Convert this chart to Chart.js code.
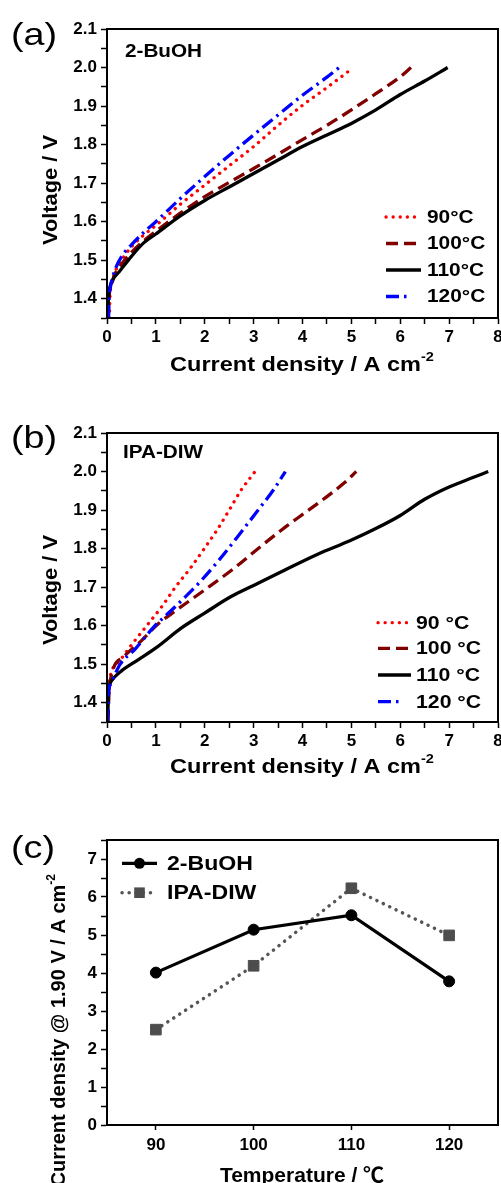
<!DOCTYPE html>
<html lang="en">
<head>
<meta charset="UTF-8">
<title>Polarization curves</title>
<script src="https://cdn.jsdelivr.net/npm/chart.js@4"></script>
<style>
  body { margin: 0; background: #fff; width: 501px; height: 1183px; overflow: hidden; position: relative; }
  .panel { position: absolute; left: 0; }
  canvas { display: block; }
</style>
</head>
<body>
<div class="panel" style="top:0"><canvas id="chartA" width="520" height="390"></canvas></div>
<div class="panel" style="top:390px"><canvas id="chartB" width="520" height="390"></canvas></div>
<div class="panel" style="top:780px"><canvas id="chartC" width="520" height="403"></canvas></div>

<script>
// (a) 2-BuOH polarization curves: current density (A cm-2) vs voltage (V)
const tempLabelsA = ['90°C', '100°C', '110°C', '120°C'];
const currentA90 = [0.05, 0.06, 0.1, 0.2, 0.35, 0.5, 0.75, 1, 1.5, 2, 2.5, 3, 3.5, 4, 4.5, 4.94];
const voltA90 = [1.35, 1.40, 1.44, 1.48, 1.51, 1.535, 1.565, 1.59, 1.645, 1.695, 1.745, 1.795, 1.85, 1.902, 1.948, 1.99];
const currentA100 = [0.03, 0.04, 0.08, 0.15, 0.3, 0.5, 0.75, 1, 1.5, 2, 2.5, 3, 3.5, 4, 4.5, 5, 5.5, 6, 6.22];
const voltA100 = [1.35, 1.40, 1.43, 1.46, 1.49, 1.52, 1.55, 1.575, 1.622, 1.665, 1.702, 1.738, 1.775, 1.813, 1.85, 1.89, 1.932, 1.976, 2.0];
const currentA110 = [0.02, 0.03, 0.06, 0.12, 0.25, 0.5, 0.75, 1, 1.5, 2, 2.5, 3, 3.5, 4, 4.5, 5, 5.5, 6, 6.5, 6.97];
const voltA110 = [1.35, 1.40, 1.43, 1.45, 1.47, 1.51, 1.545, 1.568, 1.615, 1.655, 1.69, 1.725, 1.76, 1.795, 1.825, 1.855, 1.89, 1.93, 1.965, 2.0];
const currentA120 = [0.03, 0.04, 0.07, 0.15, 0.3, 0.5, 0.75, 1, 1.5, 2, 2.5, 3, 3.5, 4, 4.5, 4.75];
const voltA120 = [1.35, 1.40, 1.43, 1.47, 1.51, 1.54, 1.572, 1.60, 1.66, 1.717, 1.772, 1.825, 1.877, 1.928, 1.975, 2.0];

// (b) IPA-DIW polarization curves
const tempLabelsB = ['90 °C', '100 °C', '110 °C', '120 °C'];
const currentB90 = [0.01, 0.02, 0.07, 0.27, 0.55, 0.82, 1.13, 1.40, 1.71, 1.99, 2.26, 2.5, 2.74, 3.03];
const voltB90 = [1.40, 1.43, 1.471, 1.51, 1.558, 1.601, 1.651, 1.70, 1.75, 1.80, 1.85, 1.90, 1.951, 2.0];
const currentB100 = [0.02, 0.04, 0.1, 0.34, 0.68, 1.06, 1.44, 1.99, 2.60, 3.12, 3.66, 4.04, 4.5, 4.85, 5.1];
const voltB100 = [1.35, 1.42, 1.476, 1.519, 1.558, 1.606, 1.642, 1.692, 1.749, 1.803, 1.857, 1.892, 1.935, 1.97, 2.0];
const currentB110 = [0.01, 0.02, 0.03, 0.1, 0.27, 0.62, 1.03, 1.51, 1.99, 2.53, 3.01, 3.63, 4.3, 4.98, 5.5, 6, 6.5, 7, 7.5, 7.8];
const voltB110 = [1.35, 1.38, 1.424, 1.458, 1.48, 1.51, 1.545, 1.593, 1.632, 1.675, 1.705, 1.744, 1.785, 1.821, 1.852, 1.886, 1.928, 1.96, 1.985, 2.0];
const currentB120 = [0.01, 0.02, 0.03, 0.08, 0.14, 0.27, 0.58, 0.96, 1.27, 1.58, 1.92, 2.29, 2.66, 3.05, 3.42, 3.65];
const voltB120 = [1.35, 1.39, 1.424, 1.45, 1.467, 1.50, 1.54, 1.597, 1.634, 1.672, 1.716, 1.770, 1.829, 1.893, 1.955, 2.0];

// (c) current density at 1.90 V vs temperature
const temperatures = [90, 100, 110, 120];
const jBuOH = [4.01, 5.14, 5.52, 3.78];
const jIPA = [2.51, 4.19, 6.23, 4.99];
const seriesC = ['2-BuOH', 'IPA-DIW'];

const FAMILY = '"Liberation Sans", Arial, "Noto Sans CJK SC", sans-serif';
const tickFont = { family: FAMILY, size: 17, weight: 'bold' };

const curveStyles = [
  { color: '#ff0000', dash: [0.1, 7], cap: 'round' },
  { color: '#800000', dash: [12, 6], cap: 'butt' },
  { color: '#000000', dash: [], cap: 'butt' },
  { color: '#0000ff', dash: [13, 5, 2.5, 5], cap: 'butt' }
];

function toPoints(xs, ys) {
  return xs.map((x, i) => ({ x: x, y: ys[i] }));
}

function curveSets(labels, xsList, ysList) {
  return labels.map((label, i) => ({
    label: label,
    data: toPoints(xsList[i], ysList[i]),
    borderColor: curveStyles[i].color,
    borderDash: curveStyles[i].dash,
    borderCapStyle: curveStyles[i].cap,
    borderWidth: 3.3,
    pointRadius: 0,
    fill: false,
    cubicInterpolationMode: 'monotone',
    order: 3 - i
  }));
}

function isMajor(v, step) {
  const r = Math.round(v / step * 1000);
  return r % 1000 === 0;
}

function axisBase(extra) {
  return Object.assign({
    type: 'linear',
    grid: { drawOnChartArea: false, tickLength: 6, tickColor: '#000', tickWidth: 1.5 },
    border: { color: '#000', width: 2 }
  }, extra);
}

function voltScales(xHeight) {
  return {
    x: axisBase({
      min: 0, max: 8,
      afterFit: s => { s.height = xHeight; },
      ticks: { stepSize: 0.5, autoSkip: false, maxRotation: 0, padding: 3, color: '#000', font: tickFont,
               callback: v => isMajor(v, 1) ? String(Math.round(v)) : '' }
    }),
    y: axisBase({
      min: 1.35, max: 2.1,
      afterFit: s => { s.width = 107; },
      ticks: { stepSize: 0.05, autoSkip: false, padding: 4, color: '#000', font: tickFont,
               callback: v => isMajor(v, 0.1) ? v.toFixed(1) : '' }
    })
  };
}

// writes a label made of normal and superscript pieces, sx widens the glyphs
function drawRich(ctx, parts, x, y, align, size, sx, weight) {
  const w8 = weight === undefined ? 'bold ' : weight;
  const big = w8 + size + 'px ' + FAMILY;
  const small = w8 + Math.round(size * 0.6) + 'px ' + FAMILY;
  let total = 0;
  const widths = parts.map(p => {
    ctx.font = p[1] ? small : big;
    const w = ctx.measureText(p[0]).width * sx;
    total += w;
    return w;
  });
  let cx = align === 'center' ? x - total / 2 : align === 'right' ? x - total : x;
  ctx.textAlign = 'left';
  parts.forEach((p, i) => {
    ctx.font = p[1] ? small : big;
    ctx.save();
    ctx.translate(cx, p[1] ? y - size * 0.5 : y);
    ctx.scale(sx, 1);
    ctx.fillText(p[0], 0, 0);
    ctx.restore();
    cx += widths[i];
  });
}

const panelNotes = {
  id: 'panelNotes',
  afterDraw(chart, args, o) {
    const ctx = chart.ctx;
    const a = chart.chartArea;
    ctx.save();
    ctx.strokeStyle = '#000';
    ctx.lineWidth = 2;
    ctx.setLineDash([]);
    ctx.strokeRect(a.left, a.top, a.right - a.left, a.bottom - a.top);

    ctx.fillStyle = '#000';
    ctx.textBaseline = 'alphabetic';
    drawRich(ctx, [[o.letter, false]], 11, o.letterY, 'left', 32, 1.18, '');

    if (o.tag) {
      drawRich(ctx, [[o.tag, false]], o.tagX, o.tagY, 'left', 18, 1.15);
    }

    drawRich(ctx, o.xTitle, o.xTitleX, o.xTitleY, 'center', o.titleSize, o.xStretch);
    ctx.save();
    ctx.translate(o.yTitleX, o.yTitleY);
    ctx.rotate(-Math.PI / 2);
    drawRich(ctx, o.yTitle, 0, 0, o.yTitleAlign, o.yTitleSize, o.yStretch);
    ctx.restore();

    const lg = o.legend;
    chart.data.datasets.forEach((ds, i) => {
      const y = lg.rows[i];
      ctx.save();
      ctx.strokeStyle = ds.borderColor;
      ctx.lineWidth = ds.borderWidth;
      ctx.setLineDash(ds.borderDash || []);
      ctx.lineCap = ds.borderCapStyle || 'butt';
      ctx.beginPath();
      ctx.moveTo(lg.x0, y);
      ctx.lineTo(lg.x1[i], y);
      ctx.stroke();
      ctx.setLineDash([]);
      if (ds.pointRadius > 0) {
        const mx = (lg.x0 + lg.x1[i]) / 2;
        ctx.fillStyle = ds.pointBackgroundColor;
        ctx.beginPath();
        if (ds.pointStyle === 'rect') {
          const h = ds.pointRadius * Math.SQRT1_2;
          ctx.rect(mx - h, y - h, 2 * h, 2 * h);
        } else {
          ctx.arc(mx, y, ds.pointRadius, 0, Math.PI * 2);
        }
        ctx.fill();
      }
      ctx.restore();
      ctx.fillStyle = '#000';
      ctx.textBaseline = 'middle';
      drawRich(ctx, [[ds.label, false]], lg.tx, y + 1, 'left', lg.size, lg.stretch);
    });
    ctx.restore();
  }
};

const baseOptions = {
  responsive: false,
  animation: false,
  events: []
};

const cmTitle = [['Current density / A cm', false], ['-2', true]];

new Chart(document.getElementById('chartA'), {
  type: 'line',
  data: { datasets: curveSets(tempLabelsA, [currentA90, currentA100, currentA110, currentA120], [voltA90, voltA100, voltA110, voltA120]) },
  options: Object.assign({}, baseOptions, {
    layout: { padding: { top: 29, right: 22, left: 0, bottom: 0 } },
    scales: voltScales(72),
    plugins: {
      legend: { display: false },
      tooltip: { enabled: false },
      panelNotes: {
        letter: '(a)', letterY: 45,
        tag: '2-BuOH', tagX: 125, tagY: 57,
        titleSize: 21, xStretch: 1.12,
        xTitle: cmTitle, xTitleX: 302, xTitleY: 371,
        yTitle: [['Voltage / V', false]], yTitleX: 57, yTitleY: 190, yTitleAlign: 'center', yTitleSize: 21, yStretch: 1.04,
        legend: { rows: [217, 243.5, 270, 296.5], x0: 386, x1: [420, 420, 421, 410], tx: 427, size: 18, stretch: 1.16 }
      }
    }
  }),
  plugins: [panelNotes]
});

new Chart(document.getElementById('chartB'), {
  type: 'line',
  data: { datasets: curveSets(tempLabelsB, [currentB90, currentB100, currentB110, currentB120], [voltB90, voltB100, voltB110, voltB120]) },
  options: Object.assign({}, baseOptions, {
    layout: { padding: { top: 43, right: 22, left: 0, bottom: 0 } },
    scales: voltScales(58),
    plugins: {
      legend: { display: false },
      tooltip: { enabled: false },
      panelNotes: {
        letter: '(b)', letterY: 58,
        tag: 'IPA-DIW', tagX: 123, tagY: 68,
        titleSize: 21, xStretch: 1.12,
        xTitle: cmTitle, xTitleX: 302, xTitleY: 383,
        yTitle: [['Voltage / V', false]], yTitleX: 57, yTitleY: 200, yTitleAlign: 'center', yTitleSize: 21, yStretch: 1.04,
        legend: { rows: [232.7, 258.3, 285, 311.7], x0: 378, x1: [411, 411, 411, 403], tx: 416, size: 18, stretch: 1.18 }
      }
    }
  }),
  plugins: [panelNotes]
});

new Chart(document.getElementById('chartC'), {
  type: 'line',
  data: {
    datasets: [
      {
        label: seriesC[0],
        data: toPoints(temperatures, jBuOH),
        borderColor: '#000', borderWidth: 3.2,
        pointStyle: 'circle', pointRadius: 5.5,
        pointBackgroundColor: '#000', pointBorderColor: '#000', pointBorderWidth: 1,
        order: 0
      },
      {
        label: seriesC[1],
        data: toPoints(temperatures, jIPA),
        borderColor: '#555555', borderWidth: 3.5,
        borderDash: [0.1, 7], borderCapStyle: 'round',
        pointStyle: 'rect', pointRadius: 7.5,
        pointBackgroundColor: '#4d4d4d', pointBorderColor: '#4d4d4d', pointBorderWidth: 1,
        order: 1
      }
    ]
  },
  options: Object.assign({}, baseOptions, {
    layout: { padding: { top: 60, right: 22, left: 0, bottom: 0 } },
    scales: {
      x: axisBase({
        min: 85, max: 125,
        afterFit: s => { s.height = 58; },
        afterBuildTicks: s => { s.ticks = temperatures.map(v => ({ value: v })); },
        ticks: { autoSkip: false, maxRotation: 0, padding: 5, color: '#000', font: tickFont },
        grid: { drawOnChartArea: false, tickLength: 5, tickColor: '#000', tickWidth: 1.5 }
      }),
      y: axisBase({
        min: 0, max: 7.5,
        afterFit: s => { s.width = 107; },
        ticks: { stepSize: 0.5, autoSkip: false, padding: 4, color: '#000', font: tickFont,
                 callback: v => isMajor(v, 1) ? String(Math.round(v)) : '' }
      })
    },
    plugins: {
      legend: { display: false },
      tooltip: { enabled: false },
      panelNotes: {
        letter: '(c)', letterY: 78,
        titleSize: 21, xStretch: 1.0,
        xTitle: [['Temperature / ', false], ['℃', false]], xTitleX: 302, xTitleY: 402,
        yTitle: [['Current density @ 1.90 V / A cm', false], ['-2', true]], yTitleX: 65, yTitleY: 94, yTitleAlign: 'right', yTitleSize: 20, yStretch: 1.0,
        legend: { rows: [83.3, 112.7], x0: 122, x1: [157, 157], tx: 167, size: 21, stretch: 1.1 }
      }
    }
  }),
  plugins: [panelNotes]
});
</script>
</body>
</html>
